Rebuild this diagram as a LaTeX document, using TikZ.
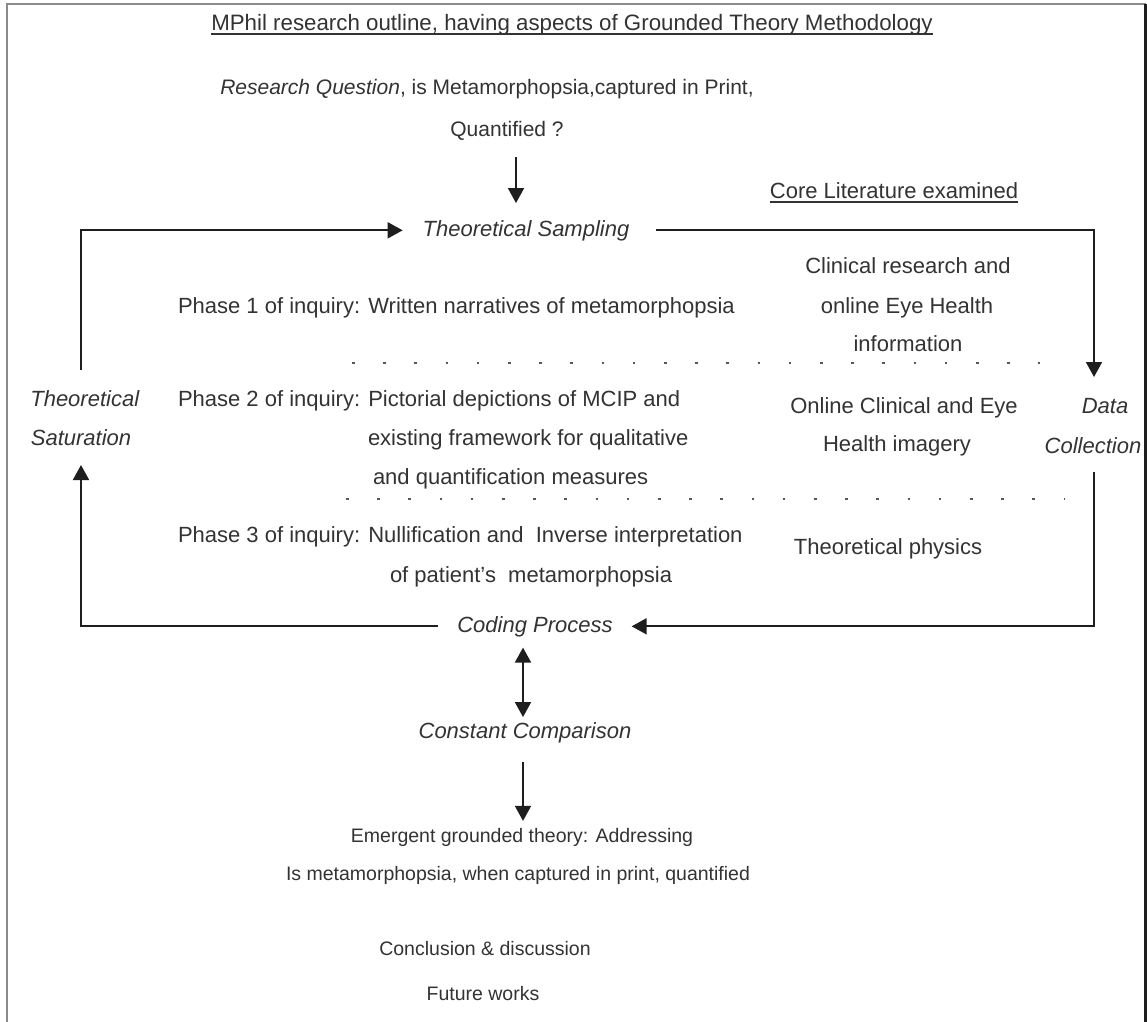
\documentclass[tikz,border=0pt]{standalone}
\usepackage{fontspec}
\setmainfont{Liberation Sans}
\usetikzlibrary{arrows.meta}
\definecolor{txtcol}{HTML}{333333}
\definecolor{linecol}{HTML}{1E1E1E}
\definecolor{framegray}{HTML}{8A8A8A}
\begin{document}
\begin{tikzpicture}[x=1pt,y=-1pt,
  txt/.style={inner sep=0pt, outer sep=0pt, anchor=base, font=\fontsize{22}{26}\selectfont, text=txtcol},
  ltxt/.style={txt, anchor=base west},
  smalltxt/.style={txt, font=\fontsize{19.5}{23}\selectfont},
  conn/.style={line width=1.8pt, draw=linecol},
  arr/.style={conn, -{Triangle[length=15pt,width=16pt]}},
  dbl/.style={conn, {Triangle[length=15pt,width=16pt]}-{Triangle[length=15pt,width=16pt]}},
  dotline/.style={line width=2.6pt, draw=black!65, dash pattern=on 2.6pt off 28.6pt},
  ul/.style={line width=1.5pt, draw=txtcol}
]
\useasboundingbox (0,0) rectangle (1147,1021);
\fill[white] (0,0) rectangle (1147,1021);
% frame
\draw[line width=2.2pt, draw=framegray] (7,1030) -- (7,4) -- (1145.5,4);
\draw[line width=2.2pt, draw=linecol] (1145.5,4) -- (1145.5,1030);

% texts
\node[txt, font=\fontsize{22.3}{26}\selectfont] (title) at (572,30) {MPhil research outline, having aspects of Grounded Theory Methodology};
\draw[ul] ([yshift=-4pt]title.base west) -- ([yshift=-4pt]title.base east);
\node[txt, font=\fontsize{21}{25}\selectfont] (rq1) at (487,94) {\textit{Research Question}, is Metamorphopsia,captured in Print,};
\node[txt, font=\fontsize{21}{25}\selectfont] (rq2) at (507,136) {Quantified ?};
\node[txt] (core) at (894,198) {Core Literature examined};
\draw[ul] ([yshift=-4pt]core.base west) -- ([yshift=-4pt]core.base east);
\node[txt] (ts) at (526,236) {\textit{Theoretical Sampling}};

\node[txt] (cl1) at (908,273) {Clinical research and};
\node[txt] (cl2) at (907,313) {online Eye Health};
\node[txt] (cl3) at (908,351) {information};
\node[ltxt] (p1) at (178,313) {Phase 1 of inquiry: Written narratives of metamorphopsia};

\node[txt] (sat1) at (85,406) {\textit{Theoretical}};
\node[txt] (sat2) at (81,445) {\textit{Saturation}};
\node[ltxt] (p2a) at (178,406) {Phase 2 of inquiry: Pictorial depictions of MCIP and};
\node[ltxt] (p2b) at (368,445) {existing framework for qualitative};
\node[ltxt] (p2c) at (373,484) {and quantification measures};
\node[txt] (ol1) at (904,413) {Online Clinical and Eye};
\node[txt] (ol2) at (897,451) {Health imagery};
\node[txt] (dc1) at (1105,413) {\textit{Data}};
\node[txt] (dc2) at (1093,453) {\textit{Collection}};

\node[ltxt] (p3a) at (178,542) {Phase 3 of inquiry: Nullification and\ \ Inverse interpretation};
\node[ltxt] (p3b) at (390,582) {of patient's\ \ metamorphopsia};
\node[txt] (phys) at (888,554) {Theoretical physics};

\node[txt] (cp) at (535,632) {\textit{Coding Process}};
\node[txt] (cc) at (525,738) {\textit{Constant Comparison}};
\node[smalltxt] (eg1) at (522,842) {Emergent grounded theory: Addressing};
\node[smalltxt] (eg2) at (518,880) {Is metamorphopsia, when captured in print, quantified};
\node[smalltxt] (conc) at (485,955) {Conclusion \& discussion};
\node[smalltxt] (fut) at (483,1000) {Future works};

% dotted separators
\coordinate (d1a) at (352,363);
\coordinate (d1b) at (1040,363);
\coordinate (d2a) at (346,499);
\coordinate (d2b) at (1065,499);
\draw[dotline] (d1a) -- (d1b);
\draw[dotline] (d2a) -- (d2b);

% loop ends
\coordinate (satTop) at (81,370);
\coordinate (satBot) at (81,465);
\coordinate (dcTop) at (1094,377);
\coordinate (dcBot) at (1094,472);

% connectors
\draw[arr, shorten >=17pt, shorten <=17pt] ([xshift=9pt]rq2.south) -- ([xshift=9pt]rq2.south |- ts.north);
\draw[arr, shorten >=20pt] (satTop) |- (ts.west);
\draw[arr, shorten <=27pt] (ts.east) -| (dcTop);
\draw[arr, shorten >=19pt] (dcBot) |- (cp.east);
\draw[arr, shorten <=19pt] (cp.west) -| (satBot);
\draw[dbl, shorten <=11pt, shorten >=5pt] ([xshift=-12pt]cp.south) -- ([xshift=-12pt]cp.south |- cc.north);
\draw[arr, shorten <=19pt, shorten >=7pt] ([xshift=-2pt]cc.south) -- ([xshift=-2pt]cc.south |- eg1.north);
\end{tikzpicture}
\end{document}
